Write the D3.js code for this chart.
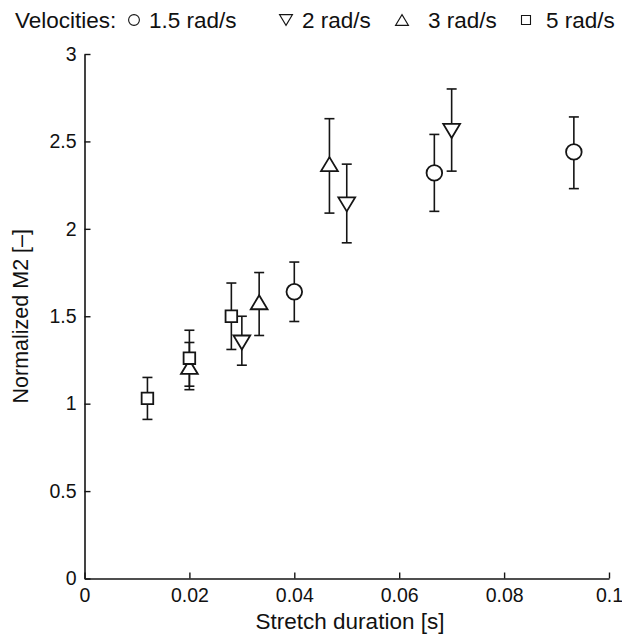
<!DOCTYPE html>
<html lang="en">
<head>
<meta charset="UTF-8" />
<title>Normalized M2 vs stretch duration</title>
<script src="https://d3js.org/d3.v7.js"></script>
<style>
  body { margin: 0; background: #fff; }
  text { font-family: "Liberation Sans", Arial, sans-serif; fill: #111; }
</style>
</head>
<body>
<svg id="chart"></svg>
<script>
// data
var velocities = ["1.5 rad/s", "2 rad/s", "3 rad/s", "5 rad/s"];
var markers = ["circle", "triangleDown", "triangleUp", "square"];

var durations = [
  [0.04, 0.0667, 0.0933],
  [0.03, 0.05, 0.07],
  [0.02, 0.0333, 0.0467],
  [0.012, 0.02, 0.028]
];
var meanM2 = [
  [1.64, 2.32, 2.44],
  [1.35, 2.14, 2.56],
  [1.21, 1.58, 2.37],
  [1.03, 1.26, 1.50]
];
var lowM2 = [
  [1.47, 2.10, 2.23],
  [1.22, 1.92, 2.33],
  [1.08, 1.39, 2.09],
  [0.91, 1.10, 1.31]
];
var highM2 = [
  [1.81, 2.54, 2.64],
  [1.50, 2.37, 2.80],
  [1.35, 1.75, 2.63],
  [1.15, 1.42, 1.69]
];

var xTicks = [0, 0.02, 0.04, 0.06, 0.08, 0.1];
var yTicks = [0, 0.5, 1, 1.5, 2, 2.5, 3];

var width = 622, height = 639;
var ink = "#151515";

var svg = d3.select("#chart").attr("width", width).attr("height", height);

var x = d3.scaleLinear().domain([0, 0.1]).range([84.5, 609]);
var y = d3.scaleLinear().domain([0, 3]).range([578.5, 54]);

// marker path by name, s = half extent in px
function markerPath(kind, s) {
  var p = d3.path();
  if (kind == "circle") {
    p.moveTo(s, 0); p.arc(0, 0, s, 0, 2 * Math.PI);
  } else if (kind == "square") {
    p.rect(-s, -s, 2 * s, 2 * s);
  } else if (kind == "triangleUp") {
    p.moveTo(0, -s); p.lineTo(s * 1.2, s); p.lineTo(-s * 1.2, s); p.closePath();
  } else {
    p.moveTo(0, s); p.lineTo(s * 1.2, -s); p.lineTo(-s * 1.2, -s); p.closePath();
  }
  return p.toString();
}
var markerSize = { circle: 7.8, triangleDown: 7, triangleUp: 7, square: 5.8 };

// axes (MATLAB look: ticks point inwards)
var xAxis = d3.axisBottom(x).tickValues(xTicks).tickSizeInner(-6).tickSizeOuter(0)
  .tickFormat(function (d) { return d; });
var yAxis = d3.axisLeft(y).tickValues(yTicks).tickSizeInner(-6).tickSizeOuter(0)
  .tickFormat(function (d) { return d; });

var gx = svg.append("g").attr("transform", "translate(0," + y(0) + ")").call(xAxis);
var gy = svg.append("g").attr("transform", "translate(" + x(0) + ",0)").call(yAxis);

[gx, gy].forEach(function (g) {
  g.select(".domain").attr("stroke", ink).attr("stroke-width", 1.6);
  g.selectAll(".tick line").attr("stroke", ink).attr("stroke-width", 1.4);
  g.selectAll(".tick text").attr("font-size", 19.5).attr("fill", ink)
    .style("font-family", "Liberation Sans, Arial, sans-serif");
});
gx.selectAll(".tick text").attr("y", 10);
gy.selectAll(".tick text").attr("x", -8);

// axis titles
svg.append("text")
  .attr("x", 350).attr("y", 629)
  .attr("text-anchor", "middle").attr("font-size", 22.5)
  .text("Stretch duration [s]");

svg.append("text")
  .attr("transform", "translate(28," + (y(1.5)) + ") rotate(-90)")
  .attr("text-anchor", "middle").attr("font-size", 21.5)
  .text("Normalized M2 [\u2013]");

// error bars + markers
var points = [];
velocities.forEach(function (v, i) {
  durations[i].forEach(function (d, j) {
    points.push({ v: i, x: d, y: meanM2[i][j], lo: lowM2[i][j], hi: highM2[i][j] });
  });
});

var g = svg.append("g");
var cap = 5;
points.forEach(function (p) {
  var px = x(p.x);
  g.append("line").attr("x1", px).attr("x2", px).attr("y1", y(p.lo)).attr("y2", y(p.hi))
    .attr("stroke", ink).attr("stroke-width", 1.6);
  [p.lo, p.hi].forEach(function (e) {
    g.append("line").attr("x1", px - cap).attr("x2", px + cap).attr("y1", y(e)).attr("y2", y(e))
      .attr("stroke", ink).attr("stroke-width", 1.6);
  });
});
points.forEach(function (p) {
  var kind = markers[p.v];
  g.append("path")
    .attr("d", markerPath(kind, markerSize[kind]))
    .attr("transform", "translate(" + x(p.x) + "," + y(p.y) + ")")
    .attr("fill", "#fff").attr("stroke", ink).attr("stroke-width", 1.8);
});

// legend row above the plot
var legend = svg.append("g").attr("transform", "translate(0,28)");
legend.append("text").attr("x", 15).attr("y", 0).attr("font-size", 22.5).text("Velocities:");
var legendMarkX = [134, 286, 402, 526];
var legendTextX = [149, 302, 428, 546];
var legendSmall = { circle: 5.4, triangleDown: 5.4, triangleUp: 5.4, square: 4.5 };
velocities.forEach(function (v, i) {
  legend.append("path")
    .attr("d", markerPath(markers[i], legendSmall[markers[i]]))
    .attr("transform", "translate(" + legendMarkX[i] + ",-8)")
    .attr("fill", "none").attr("stroke", ink).attr("stroke-width", 1.1);
  legend.append("text").attr("x", legendTextX[i]).attr("y", 0).attr("font-size", 22.5).text(v);
});
</script>
</body>
</html>
